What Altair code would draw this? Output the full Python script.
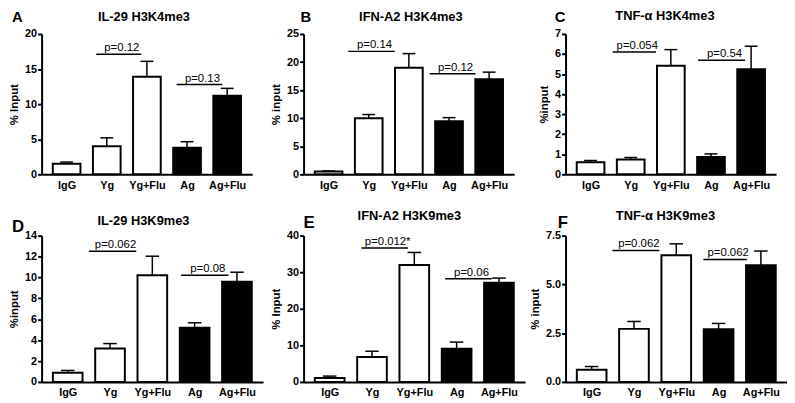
import json
import altair as alt
import pandas as pd

FONT = "Liberation Sans"

categories = ["IgG", "Yg", "Yg+Flu", "Ag", "Ag+Flu"]
groups = ["open", "open", "open", "filled", "filled"]

letters = ["A", "B", "C", "D", "E", "F"]
titles = ["IL-29 H3K4me3", "IFN-A2 H3K4me3", "TNF-\u03b1 H3K4me3",
          "IL-29 H3K9me3", "IFN-A2 H3K9me3", "TNF-\u03b1  H3K9me3"]
y_titles = ["% Input", "% input", "%input", "%input", "% Input", "% input"]

# bar heights (mean) and upper end of the error bar
mean_A = [1.5, 4.0, 13.9, 3.8, 11.2]
top_A = [1.75, 5.2, 16.1, 4.65, 12.25]
mean_B = [0.5, 10.0, 19.0, 9.45, 16.95]
top_B = [0.6, 10.65, 21.5, 10.1, 18.2]
mean_C = [0.6, 0.74, 5.42, 0.87, 5.24]
top_C = [0.69, 0.84, 6.22, 1.02, 6.39]
mean_D = [0.88, 3.2, 10.2, 5.19, 9.6]
top_D = [1.1, 3.67, 12.03, 5.66, 10.5]
mean_E = [1.1, 6.85, 32.0, 9.1, 27.1]
top_E = [1.6, 8.4, 35.4, 10.9, 28.4]
mean_F = [0.63, 2.72, 6.5, 2.7, 5.98]
top_F = [0.79, 3.1, 7.08, 3.0, 6.71]

# y axis ranges and tick values
ymax = [20, 25, 7, 14, 40, 7.5]
yticks = [[0, 5, 10, 15, 20], [0, 5, 10, 15, 20, 25], [0, 1, 2, 3, 4, 5, 6, 7],
          [0, 2, 4, 6, 8, 10, 12, 14], [0, 10, 20, 30, 40], [0, 2.5, 5.0, 7.5]]
yfmt = ["d", "d", "d", "d", "d", ".1f"]

# significance annotations: label, start, end (category units), height (data units)
p_labels = [["p=0.12", "p=0.13"], ["p=0.14", "p=0.12"], ["p=0.054", "p=0.54"],
            ["p=0.062", "p=0.08"], ["p=0.012*", "p=0.06"], ["p=0.062", "p=0.062"]]
p_x1 = [[0.74, 2.74], [0.49, 2.52], [0.55, 2.68], [0.5, 2.68], [0.75, 2.73], [0.49, 2.64]]
p_x2 = [[1.86, 3.88], [1.65, 3.66], [1.63, 3.85], [1.62, 3.8], [1.85, 3.83], [1.6, 3.67]]
p_y = [[17.1, 12.8], [21.9, 17.9], [6.1, 5.69], [12.5, 10.2], [36.6, 28.2], [6.74, 6.28]]

means = [mean_A, mean_B, mean_C, mean_D, mean_E, mean_F]
tops = [top_A, top_B, top_C, top_D, top_E, top_F]

# layout (pixels)
widths = [213, 213, 213, 224, 224, 224]
heights = [142, 142, 142, 148, 148, 148]
bar_sizes = [28, 28, 28, 30, 30, 30]
letter_x = [-30, -3, -11, -30, 0, -8]
letter_y = [-12, -12, -12, -4, -8, -8]
letter_size = [15, 15, 15, 17, 17, 17]
title_y = [-13, -13, -14, -11, -16, -16]
title_dx = [-3, 2, -6, -9, -5, -11]

label_expr = json.dumps(categories) + "[datum.value]"


def panel(i):
    w, h = widths[i], heights[i]
    df = pd.DataFrame({"pos": list(range(len(categories))), "cat": categories,
                       "grp": groups, "mean": means[i], "top": tops[i]})
    notes = pd.DataFrame({"label": p_labels[i], "x1": p_x1[i], "x2": p_x2[i], "y": p_y[i]})

    xscale = alt.Scale(domain=[-0.5, 4.5], nice=False, zero=False)
    yscale = alt.Scale(domain=[0, ymax[i]], nice=False)
    xaxis = alt.Axis(values=list(range(5)), tickCount=5, labelExpr=label_expr, ticks=False,
                     title=None, grid=False, labelPadding=5, labelOverlap=False)
    yaxis = alt.Axis(values=yticks[i], tickCount=len(yticks[i]), format=yfmt[i],
                     title=y_titles[i], grid=False, tickSize=4, labelPadding=1,
                     titlePadding=5, labelOverlap=False)

    base = alt.Chart(df)
    bars = base.mark_bar(size=bar_sizes[i], stroke="black", strokeWidth=2).encode(
        x=alt.X("pos:Q", scale=xscale, axis=xaxis),
        y=alt.Y("mean:Q", scale=yscale, axis=yaxis),
        fill=alt.Fill("grp:N", scale=alt.Scale(domain=["open", "filled"],
                                                range=["white", "black"]), legend=None),
    )
    err = base.mark_rule(color="black", strokeWidth=1.5).encode(
        x="pos:Q", y="mean:Q", y2="top:Q")
    cap = base.transform_calculate(c1="datum.pos - 0.16", c2="datum.pos + 0.16").mark_rule(
        color="black", strokeWidth=1.5).encode(x="c1:Q", x2="c2:Q", y="top:Q")

    nbase = alt.Chart(notes).transform_calculate(xm="(datum.x1 + datum.x2) / 2")
    nline = nbase.mark_rule(color="black", strokeWidth=1.5).encode(
        x="x1:Q", x2="x2:Q", y="y:Q")
    ntext = nbase.mark_text(align="center", baseline="bottom", dx=3, dy=-1,
                            fontSize=11.5, font=FONT, color="black").encode(
        x="xm:Q", y="y:Q", text="label:N")

    letter = alt.Chart(pd.DataFrame({"t": [letters[i]]})).mark_text(
        align="left", baseline="alphabetic", fontSize=letter_size[i], fontWeight="bold",
        font=FONT, color="black").encode(
        x=alt.value(letter_x[i]), y=alt.value(letter_y[i]), text="t:N")
    title = alt.Chart(pd.DataFrame({"t": [titles[i]]})).mark_text(
        align="center", baseline="alphabetic", fontSize=13, fontWeight="bold",
        font=FONT, color="black").encode(
        x=alt.value(w / 2 + title_dx[i]), y=alt.value(title_y[i]), text="t:N")

    return alt.layer(bars, err, cap, nline, ntext, letter, title).properties(width=w, height=h)


row1 = alt.hconcat(panel(0), panel(1), panel(2), spacing=52, bounds="flush")
row2 = alt.hconcat(panel(3), panel(4), panel(5), spacing=41, bounds="flush")

chart = alt.vconcat(row1, row2, spacing=20).properties(padding=0).configure_view(
    strokeWidth=0
).configure_axis(
    domainColor="black", domainWidth=2, tickColor="black", tickWidth=2,
    labelFont=FONT, labelFontSize=11, labelFontWeight="bold", labelColor="black",
    titleFont=FONT, titleFontSize=11.5, titleFontWeight="bold", titleColor="black",
)

chart.save("out.html", embed_options={"renderer": "svg", "actions": False})
